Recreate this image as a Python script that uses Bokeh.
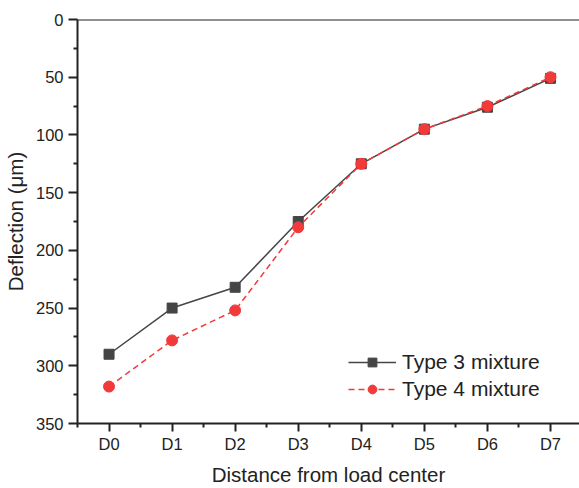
from bokeh.plotting import figure
from bokeh.models import Range1d, FixedTicker, Span, Legend, LegendItem, ColumnDataSource
from bokeh.embed import file_html
from bokeh.resources import INLINE

categories = ["D0", "D1", "D2", "D3", "D4", "D5", "D6", "D7"]
type3 = [290, 250, 232, 175, 125, 95, 76, 51]
type4 = [318, 278, 252, 180, 125, 95, 75, 50]
y_ticks = [0, 50, 100, 150, 200, 250, 300, 350]

xs = list(range(len(categories)))
src = ColumnDataSource(dict(x=xs, t3=type3, t4=type4))

FONT = "Liberation Sans"
GRAY = "#454545"
RED = "#f23a3a"

p = figure(width=579, height=488, output_backend="svg", toolbar_location=None,
           x_range=Range1d(-0.5, 7.46), y_range=Range1d(350, 0),
           min_border_left=77, min_border_right=0, min_border_top=19, min_border_bottom=61)
p.outline_line_color = None
p.grid.grid_line_color = None
p.background_fill_color = "white"
p.border_fill_color = "white"

l3 = p.line("x", "t3", source=src, line_color=GRAY, line_width=1.5)
s3 = p.scatter("x", "t3", source=src, marker="square", size=10, fill_color=GRAY, line_color=GRAY)
l4 = p.line("x", "t4", source=src, line_color=RED, line_width=1.5, line_dash="6 4")
s4 = p.scatter("x", "t4", source=src, marker="circle", size=11, fill_color=RED, line_color=RED)

xa = p.xaxis[0]
xa.ticker = FixedTicker(ticks=xs, minor_ticks=[i - 0.5 for i in range(len(categories) + 1)])
xa.major_label_overrides = {i: c for i, c in enumerate(categories)}
xa.axis_label = "Distance from load center"

ya = p.yaxis[0]
ya.ticker = FixedTicker(ticks=y_ticks, minor_ticks=[v + 25 for v in y_ticks[:-1]])
ya.axis_label = "Deflection (μm)"

for ax in (xa, ya):
    ax.axis_line_width = 2
    ax.axis_line_color = "#222222"
    ax.major_tick_line_color = "#222222"
    ax.minor_tick_line_color = "#222222"
    ax.major_tick_line_width = 2
    ax.minor_tick_line_width = 2
    ax.major_tick_in = 0
    ax.minor_tick_in = 0
    ax.major_label_text_font = FONT
    ax.major_label_text_font_size = "16.5px"
    ax.major_label_text_color = "#222222"
    ax.axis_label_text_font = FONT
    ax.axis_label_text_font_size = "20.5px"
    ax.axis_label_text_font_style = "normal"
    ax.axis_label_text_color = "#222222"

xa.major_tick_out = 8
xa.minor_tick_out = 4
xa.major_label_standoff = 3
xa.axis_label_standoff = 7
ya.major_tick_out = 9
ya.minor_tick_out = 4
ya.major_label_standoff = 5
ya.axis_label_standoff = 6

top_line = Span(location=0, dimension="width", line_color="#222222", line_width=2)
p.add_layout(top_line)

legend = Legend(items=[LegendItem(label="Type 3 mixture", renderers=[l3, s3]),
                       LegendItem(label="Type 4 mixture", renderers=[l4, s4])],
                location=(271, 22), border_line_color=None, background_fill_alpha=0,
                label_text_font=FONT, label_text_font_size="21px", label_text_color="#222222",
                glyph_width=48, glyph_height=22, label_height=22, spacing=3, padding=0,
                label_standoff=6)
p.add_layout(legend, "center")

open("out.html", "w").write(file_html(p, INLINE))
